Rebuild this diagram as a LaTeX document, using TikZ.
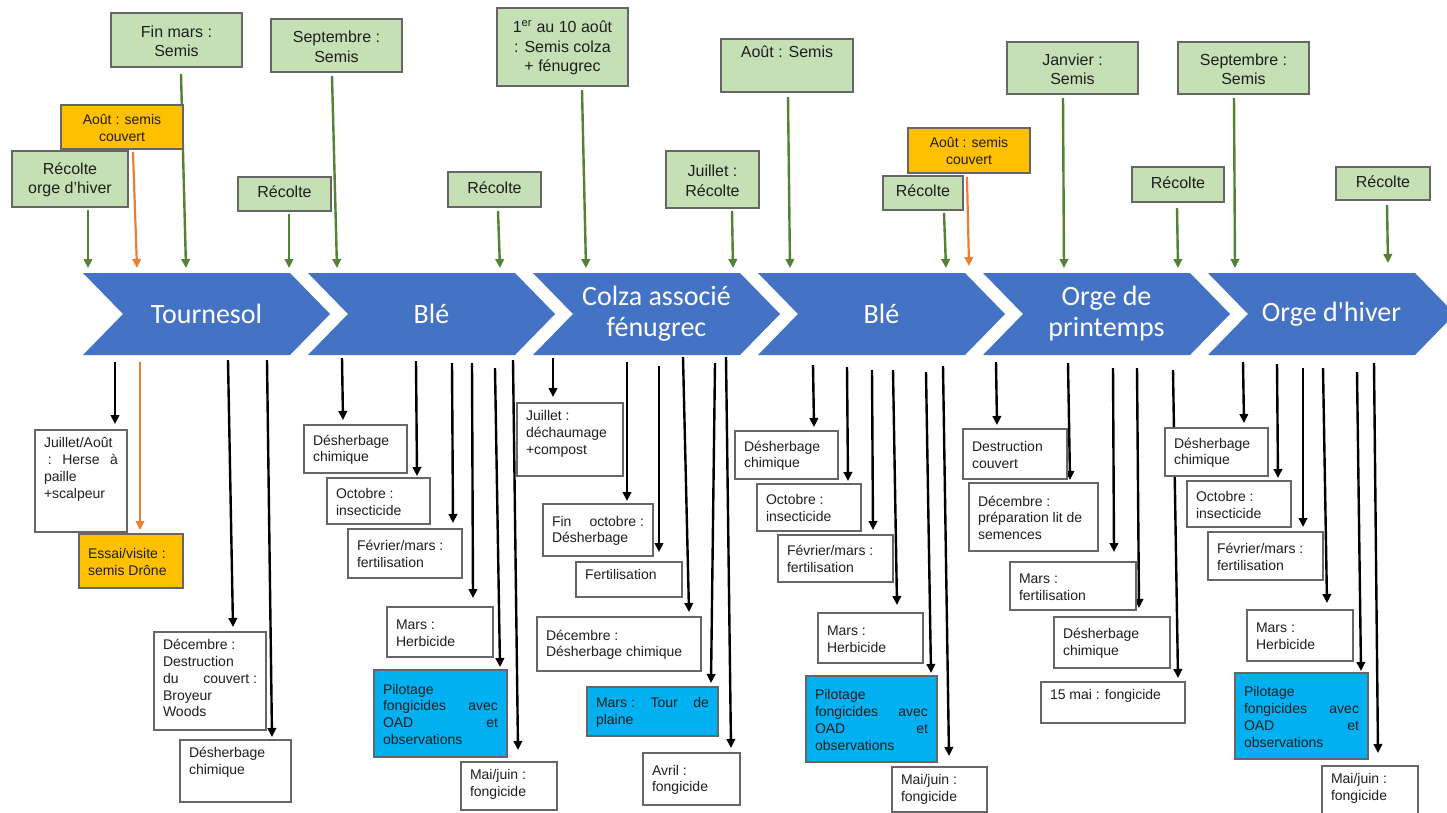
\documentclass[tikz,border=0pt]{standalone}
\usepackage{fontspec}
\setmainfont{Liberation Sans}
\newfontfamily\chevfont{Carlito}
\usetikzlibrary{arrows.meta,calc}
\definecolor{gfill}{HTML}{C5E0B4}
\definecolor{ofill}{HTML}{FFC000}
\definecolor{bfill}{HTML}{00B0F0}
\definecolor{chevc}{HTML}{4472C4}
\definecolor{garrc}{HTML}{548235}
\definecolor{oarrc}{HTML}{ED7D31}
\definecolor{bordc}{HTML}{666666}
\pgfdeclarelayer{bg}
\pgfdeclarelayer{back}
\pgfsetlayers{bg,back,main}
% box: style, name, x1, y1, x2, y2, vertical pos, alignment, text
\newcommand\bx[9]{\node[#1,anchor=north west] (#2) at (#3,#4)
 {\parbox[c][\dimexpr #6pt-#4pt-(\pgfkeysvalueof{/pgf/inner ysep})*2\relax][#7]{\dimexpr #5pt-#3pt-(\pgfkeysvalueof{/pgf/inner xsep})*2\relax}{#8\strut#9}};}
% chevron: name, start x, text
\newcommand\mychev[3]{%
 \fill[chevc] (#2,273) -- ++(207,0) -- ++(40,41) -- ++(-40,41) -- ++(-207,0) -- ++(40,-41) -- cycle;
 \node[chevtxt,anchor=north west] (#1) at (#2,273) {#3};}
\newcommand\conn[5]{\draw[#1] ($(#2)+(#3)$) -- ($(#4)+(#5)$);}
\tikzset{
 base/.style={rectangle, outer sep=0pt, line width=1.4pt, draw=bordc, text=black!88},
 gbox/.style={base, fill=gfill, inner xsep=4pt, inner ysep=5pt, font=\fontsize{16}{19.5}\selectfont},
 obox/.style={base, fill=ofill, inner xsep=5pt, inner ysep=4pt, font=\fontsize{14}{16.8}\selectfont},
 wbox/.style={base, fill=white, inner xsep=9pt, inner ysep=6pt, font=\fontsize{14}{16.8}\selectfont},
 bbox/.style={base, fill=bfill, inner xsep=9pt, inner ysep=6pt, font=\fontsize{14}{16.8}\selectfont},
 chevtxt/.style={minimum width=247pt, minimum height=82pt, inner sep=0pt, outer sep=0pt, text=white, align=center, font=\chevfont\fontsize{28}{31}\selectfont},
 garr/.style={draw=garrc, line width=2.4pt, -{Triangle[length=9pt,width=8.5pt]}},
 oarr/.style={draw=oarrc, line width=2.2pt, -{Triangle[length=9pt,width=8.5pt]}},
 karr/.style={draw=black, line width=2.4pt, -{Triangle[length=9pt,width=8.5pt]}},
}
\begin{document}
\begin{tikzpicture}[x=1pt,y=-1pt]
\useasboundingbox (0,0) rectangle (1447,812);
\begin{pgfonlayer}{bg}
\fill[white] (0,0) rectangle (1447,812);
\end{pgfonlayer}
% chevrons
\mychev{c1}{83}{Tournesol}
\mychev{c2}{308}{Blé}
\mychev{c3}{533}{Colza associé\\fénugrec}
\mychev{c4}{758}{Blé}
\mychev{c5}{983}{Orge de\\printemps}
\mychev{c6}{1208}{Orge d'hiver}
% top boxes
\bx{gbox}{r1}{12}{151}{128}{207}{c}{\centering}{Récolte\\orge d’hiver}
\bx{gbox}{fm}{111}{13}{242}{67}{c}{\centering}{Fin mars :\\Semis}
\bx{obox}{o1}{61}{105}{183}{149}{c}{\centering}{Août : semis\\couvert}
\bx{gbox}{rc1}{238}{177}{331}{211}{c}{\centering}{Récolte}
\bx{gbox}{s1}{271}{19}{402}{72}{c}{\centering}{Septembre :\\Semis}
\bx{gbox}{rc2}{448}{172}{541}{207}{c}{\centering}{Récolte}
\bx{gbox}{co}{497}{8}{628}{86}{c}{\centering}{1\textsuperscript{er} au 10 août\\: Semis colza\\+ fénugrec}
\bx{gbox}{ju}{666}{151}{759}{208}{c}{\centering}{Juillet :\\Récolte}
\bx{gbox}{as}{721}{39}{853}{92}{t}{\centering}{Août : Semis}
\bx{gbox}{rc3}{883}{176}{963}{210}{c}{\centering}{Récolte}
\bx{obox}{o2}{908}{128}{1030}{173}{c}{\centering}{Août : semis\\couvert}
\bx{gbox}{ja}{1007}{42}{1138}{94}{c}{\centering}{Janvier :\\Semis}
\bx{gbox}{rc4}{1132}{167}{1224}{202}{c}{\centering}{Récolte}
\bx{gbox}{s2}{1178}{42}{1309}{94}{c}{\centering}{Septembre :\\Semis}
\bx{gbox}{rc5}{1336}{167}{1430}{200}{c}{\centering}{Récolte}
% Tournesol bottom
\bx{wbox}{t1a}{35}{430}{127}{532}{t}{\raggedright}{Juillet/Août\\\ :\hfill Herse\hfill à\\paille\\+scalpeur}
\bx{obox,inner xsep=9pt}{t1b}{79}{534}{183}{588}{c}{\raggedright}{Essai/visite :\\semis Drône}
\bx{wbox}{t1c}{154}{632}{266}{730}{t}{\raggedright}{Décembre :\\Destruction\\du\hfill couvert :\\Broyeur\\Woods}
\bx{wbox}{t1d}{180}{740}{291}{802}{t}{\raggedright}{Désherbage\\chimique}
% Blé bottom
\bx{wbox}{b1a}{304}{425}{407}{473}{c}{\raggedright}{Désherbage\\chimique}
\bx{wbox}{b1b}{327}{478}{430}{524}{c}{\raggedright}{Octobre :\\insecticide}
\bx{wbox}{b1c}{348}{529}{462}{578}{c}{\raggedright}{Février/mars :\\fertilisation}
\bx{wbox}{b1d}{387}{607}{493}{657}{c}{\raggedright}{Mars :\\Herbicide}
\bx{bbox}{b1e}{374}{670}{507}{757}{c}{\raggedright}{Pilotage\\fongicides\hfill avec\\OAD\hfill et\\observations}
\bx{wbox}{b1f}{461}{762}{557}{810}{t}{\raggedright}{Mai/juin :\\fongicide}
% Colza bottom
\bx{wbox}{k1a}{517}{403}{623}{476}{t}{\raggedright}{Juillet :\\déchaumage\\+compost}
\bx{wbox}{k1b}{543}{504}{653}{556}{c}{\raggedright}{Fin\hfill octobre :\\Désherbage}
\bx{wbox}{k1c}{576}{562}{682}{597}{t}{\raggedright}{Fertilisation}
\bx{wbox}{k1d}{537}{617}{701}{671}{c}{\raggedright}{Décembre :\\Désherbage chimique}
\bx{bbox}{k1e}{587}{687}{718}{736}{c}{\raggedright}{Mars :\hfill Tour\hfill de\\plaine}
\bx{wbox}{k1f}{643}{753}{740}{805}{c}{\raggedright}{Avril :\\fongicide}
% Blé 2 bottom
\bx{wbox}{b2a}{735}{431}{838}{479}{c}{\raggedright}{Désherbage\\chimique}
\bx{wbox}{b2b}{757}{484}{861}{531}{c}{\raggedright}{Octobre :\\insecticide}
\bx{wbox}{b2c}{778}{535}{893}{582}{c}{\raggedright}{Février/mars :\\fertilisation}
\bx{wbox}{b2d}{818}{613}{923}{663}{c}{\raggedright}{Mars :\\Herbicide}
\bx{bbox}{b2e}{806}{676}{937}{762}{c}{\raggedright}{Pilotage\\fongicides\hfill avec\\OAD\hfill et\\observations}
\bx{wbox}{b2f}{892}{767}{987}{812}{t}{\raggedright}{Mai/juin :\\fongicide}
% Orge de printemps bottom
\bx{wbox}{p1a}{963}{429}{1067}{479}{c}{\raggedright}{Destruction\\couvert}
\bx{wbox}{p1b}{969}{483}{1098}{551}{c}{\raggedright}{Décembre :\\préparation lit de\\semences}
\bx{wbox}{p1c}{1010}{562}{1136}{610}{c}{\raggedright}{Mars :\\fertilisation}
\bx{wbox}{p1d}{1054}{617}{1170}{668}{c}{\raggedright}{Désherbage\\chimique}
\bx{wbox}{p1e}{1041}{682}{1185}{723}{t}{\raggedright}{15 mai : fongicide}
% Orge d'hiver bottom
\bx{wbox}{h1a}{1165}{428}{1268}{476}{c}{\raggedright}{Désherbage\\chimique}
\bx{wbox}{h1b}{1187}{481}{1291}{527}{c}{\raggedright}{Octobre :\\insecticide}
\bx{wbox}{h1c}{1208}{532}{1323}{580}{c}{\raggedright}{Février/mars :\\fertilisation}
\bx{wbox}{h1d}{1247}{610}{1353}{661}{c}{\raggedright}{Mars :\\Herbicide}
\bx{bbox}{h1e}{1235}{673}{1368}{759}{c}{\raggedright}{Pilotage\\fongicides\hfill avec\\OAD\hfill et\\observations}
\bx{wbox}{h1f}{1322}{766}{1418}{814}{t}{\raggedright}{Mai/juin :\\fongicide}
% connectors
\begin{pgfonlayer}{back}
% top
\conn{garr}{r1.south west}{76,3}{c1.north west}{5,-5}
\conn{oarr}{o1.south west}{72,3}{c1.north west}{54,-5}
\conn{garr}{fm.south west}{70,7}{c1.north west}{103,-5}
\conn{garr}{rc1.south west}{51,3}{c1.north west}{206,-5}
\conn{garr}{s1.south west}{61,4}{c2.north west}{29,-5}
\conn{garr}{rc2.south west}{50,4}{c2.north west}{192,-5}
\conn{garr}{co.south west}{85,4}{c3.north west}{53,-5}
\conn{garr}{ju.south west}{66,3}{c3.north west}{200,-5}
\conn{garr}{as.south west}{67,5}{c4.north west}{32,-5}
\conn{garr}{rc3.south west}{61,3}{c4.north west}{188,-5}
\conn{oarr}{o2.south west}{59,4}{c4.north west}{211,-7}
\conn{garr}{ja.south west}{56,4}{c5.north west}{81,-5}
\conn{garr}{rc4.south west}{45,6}{c5.north west}{195,-5}
\conn{garr}{s2.south west}{56,4}{c6.north west}{27,-5}
\conn{garr}{rc5.south west}{51,5}{c6.north west}{180,-10}
% Tournesol
\conn{karr}{c1.south west}{32,7}{t1a.north west}{80,-6}
\conn{oarr}{c1.south west}{57,7}{t1b.north west}{61,-4}
\conn{karr}{c1.south west}{145,5}{t1c.north west}{79,-5}
\conn{karr}{c1.south west}{184,5}{t1d.north west}{92,-3}
% Blé
\conn{karr}{c2.south west}{34,3}{b1a.north west}{39,-5}
\conn{karr}{c2.south west}{108,6}{b1b.north west}{90,-2}
\conn{karr}{c2.south west}{144,8}{b1c.north west}{105,-6}
\conn{karr}{c2.south west}{164,8}{b1d.north west}{86,-9}
\conn{karr}{c2.south west}{187,13}{b1e.north west}{126,-3}
\conn{karr}{c2.south west}{205,5}{b1f.north west}{57,-12}
% Colza
\conn{karr}{c3.south west}{20,3}{k1a.north west}{36,-6}
\conn{karr}{c3.south west}{94,7}{k1b.north west}{84,-3}
\conn{karr}{c3.south west}{126,11}{k1c.north west}{83,-10}
\conn{karr}{c3.south west}{150,2}{k1d.north west}{152,-5}
\conn{karr}{c3.south west}{182,8}{k1e.north west}{124,-4}
\conn{karr}{c3.south west}{193,2}{k1f.north west}{88,-5}
% Blé 2
\conn{karr}{c4.south west}{55,10}{b2a.north west}{79,-4}
\conn{karr}{c4.south west}{89,12}{b2b.north west}{91,-3}
\conn{karr}{c4.south west}{114,15}{b2c.north west}{95,-5}
\conn{karr}{c4.south west}{135,15}{b2d.north west}{79,-8}
\conn{karr}{c4.south west}{168,17}{b2e.north west}{125,-3}
\conn{karr}{c4.south west}{185,11}{b2f.north west}{57,-11}
% Orge de printemps
\conn{karr}{c5.south west}{13,7}{p1a.north west}{34,-4}
\conn{karr}{c5.south west}{85,8}{p1b.north west}{101,-3}
\conn{karr}{c5.south west}{130,13}{p1c.north west}{104,-10}
\conn{karr}{c5.south west}{154,13}{p1d.north west}{85,-9}
\conn{karr}{c5.south west}{190,15}{p1e.north west}{137,-4}
% Orge d'hiver
\conn{karr}{c6.south west}{35,7}{h1a.north west}{79,-5}
\conn{karr}{c6.south west}{69,9}{h1b.north west}{91,-3}
\conn{karr}{c6.south west}{95,13}{h1c.north west}{95,-5}
\conn{karr}{c6.south west}{115,13}{h1d.north west}{80,-7}
\conn{karr}{c6.south west}{149,17}{h1e.north west}{126,-2}
\conn{karr}{c6.south west}{166,8}{h1f.north west}{56,-13}
\end{pgfonlayer}
\end{tikzpicture}
\end{document}
